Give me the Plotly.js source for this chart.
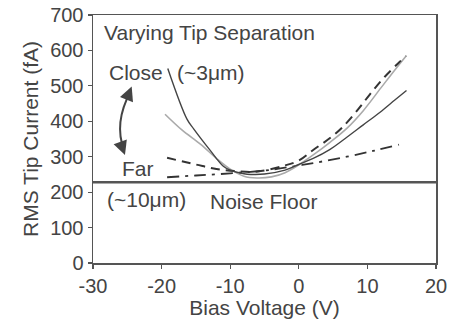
<!DOCTYPE html>
<html>
<head>
<meta charset="utf-8">
<script src="https://cdn.plot.ly/plotly-3.0.1.min.js"></script>
<style>html,body{margin:0;padding:0;background:#fff;}#chart{width:452px;height:320px;}</style>
</head>
<body>
<div id="chart"></div>
<script>
// Close tip (~3 µm), dark solid
const closeV = [-19.1, -16.3, -15.3, -13, -11, -10, -8, -7, -5, -2, 0, 2.1, 4.5, 7, 9.4, 11.8, 14, 15.7];
const closeI = [549, 406, 378, 320, 273, 262, 252, 250, 251, 262, 278, 295, 320, 355, 390, 425, 460, 487];
// intermediate separation, light gray solid
const midV = [-19.5, -17, -14.3, -12, -10, -8, -6.1, -4, -2, 0, 2.1, 4.5, 7, 9.4, 12, 14, 15.7];
const midI = [420, 375, 335, 295, 265, 245, 240, 243, 255, 277, 305, 340, 380, 430, 495, 545, 586];
// intermediate separation, dashed
const dashV = [-19.2, -15, -12, -9, -6, -2.3, 0, 2.1, 4.5, 6.3, 8.7, 10.4, 12.5, 14.5, 15.6];
const dashI = [297, 278, 265, 259, 258, 274, 289, 319, 352, 382, 435, 477, 525, 564, 584];
// Far tip (~10 µm), dash-dot
const farV = [-19.2, -15, -10, -5, -2.7, 2.1, 7, 11, 14.6];
const farI = [242, 247, 253, 261, 267, 282, 300, 317, 334];
// Noise floor
const noiseV = [-30, 20];
const noiseI = [228, 228];

const xTicks = [-30, -20, -10, 0, 10, 20];
const yTicks = [0, 100, 200, 300, 400, 500, 600, 700];

const FONT = "Liberation Sans, Arial, Helvetica, sans-serif";
const TXT = "#444";

const traces = [
  {x: noiseV, y: noiseI, mode: "lines", line: {color: "#555", width: 2.5}, hoverinfo: "skip"},
  {x: farV, y: farI, mode: "lines", line: {color: "#333", width: 1.8, dash: "12px,6px,3px,6px", shape: "spline"}},
  {x: midV, y: midI, mode: "lines", line: {color: "#aaa", width: 1.6, shape: "spline"}},
  {x: dashV, y: dashI, mode: "lines", line: {color: "#333", width: 2, dash: "9px,6px", shape: "spline"}},
  {x: closeV, y: closeI, mode: "lines", line: {color: "#444", width: 1.4, shape: "spline"}}
];

function txt(t, x, y) {
  return {text: t, x: x, y: y, xref: "x", yref: "y", xanchor: "left", yanchor: "middle",
          showarrow: false, font: {family: FONT, size: 21, color: TXT}};
}

const layout = {
  width: 452, height: 320,
  margin: {l: 93, r: 16, t: 15, b: 57},
  paper_bgcolor: "#fff", plot_bgcolor: "#fff",
  showlegend: false,
  font: {family: FONT, size: 20, color: TXT},
  xaxis: {
    range: [-30, 20], tickvals: xTicks, ticktext: xTicks.map(String),
    showgrid: false, zeroline: false, showline: true, linecolor: "#555", linewidth: 1.5,
    mirror: true, ticks: "outside", ticklen: 4, tickcolor: "#555", tickwidth: 1.2,
    tickfont: {family: FONT, size: 20, color: TXT},
    title: {text: "Bias Voltage (V)", font: {family: FONT, size: 21, color: TXT}, standoff: 2}
  },
  yaxis: {
    range: [0, 700], tickvals: yTicks, ticktext: yTicks.map(String),
    showgrid: false, zeroline: false, showline: true, linecolor: "#555", linewidth: 1.5,
    mirror: true, ticks: "outside", ticklen: 4, tickcolor: "#555", tickwidth: 1.2,
    tickfont: {family: FONT, size: 20, color: TXT},
    title: {text: "RMS Tip Current (fA)", font: {family: FONT, size: 21, color: TXT}, standoff: 6}
  },
  shapes: [
    {type: "path", xref: "x", yref: "y", path: "M -24.5,485 Q -27.03,395 -25.45,318",
     line: {color: "#444", width: 2}}
  ],
  annotations: [
    txt("Varying Tip Separation", -28.7, 652),
    txt("Close", -28.0, 537),
    txt("(~3μm)", -18.05, 537),
    txt("Far", -26.1, 267),
    txt("(~10μm)", -28.25, 178),
    txt("Noise Floor", -13.2, 173),
    {x: -24.36, y: 498, xref: "x", yref: "y", ax: -4, ay: 10, text: "", showarrow: true,
     arrowhead: 2, arrowsize: 1.4, arrowwidth: 2, arrowcolor: "#444", standoff: 0},
    {x: -25.34, y: 305, xref: "x", yref: "y", ax: -3.6, ay: -10, text: "", showarrow: true,
     arrowhead: 2, arrowsize: 1.4, arrowwidth: 2, arrowcolor: "#444", standoff: 0}
  ]
};

Plotly.newPlot("chart", traces, layout, {staticPlot: true, displayModeBar: false});
</script>
</body>
</html>
